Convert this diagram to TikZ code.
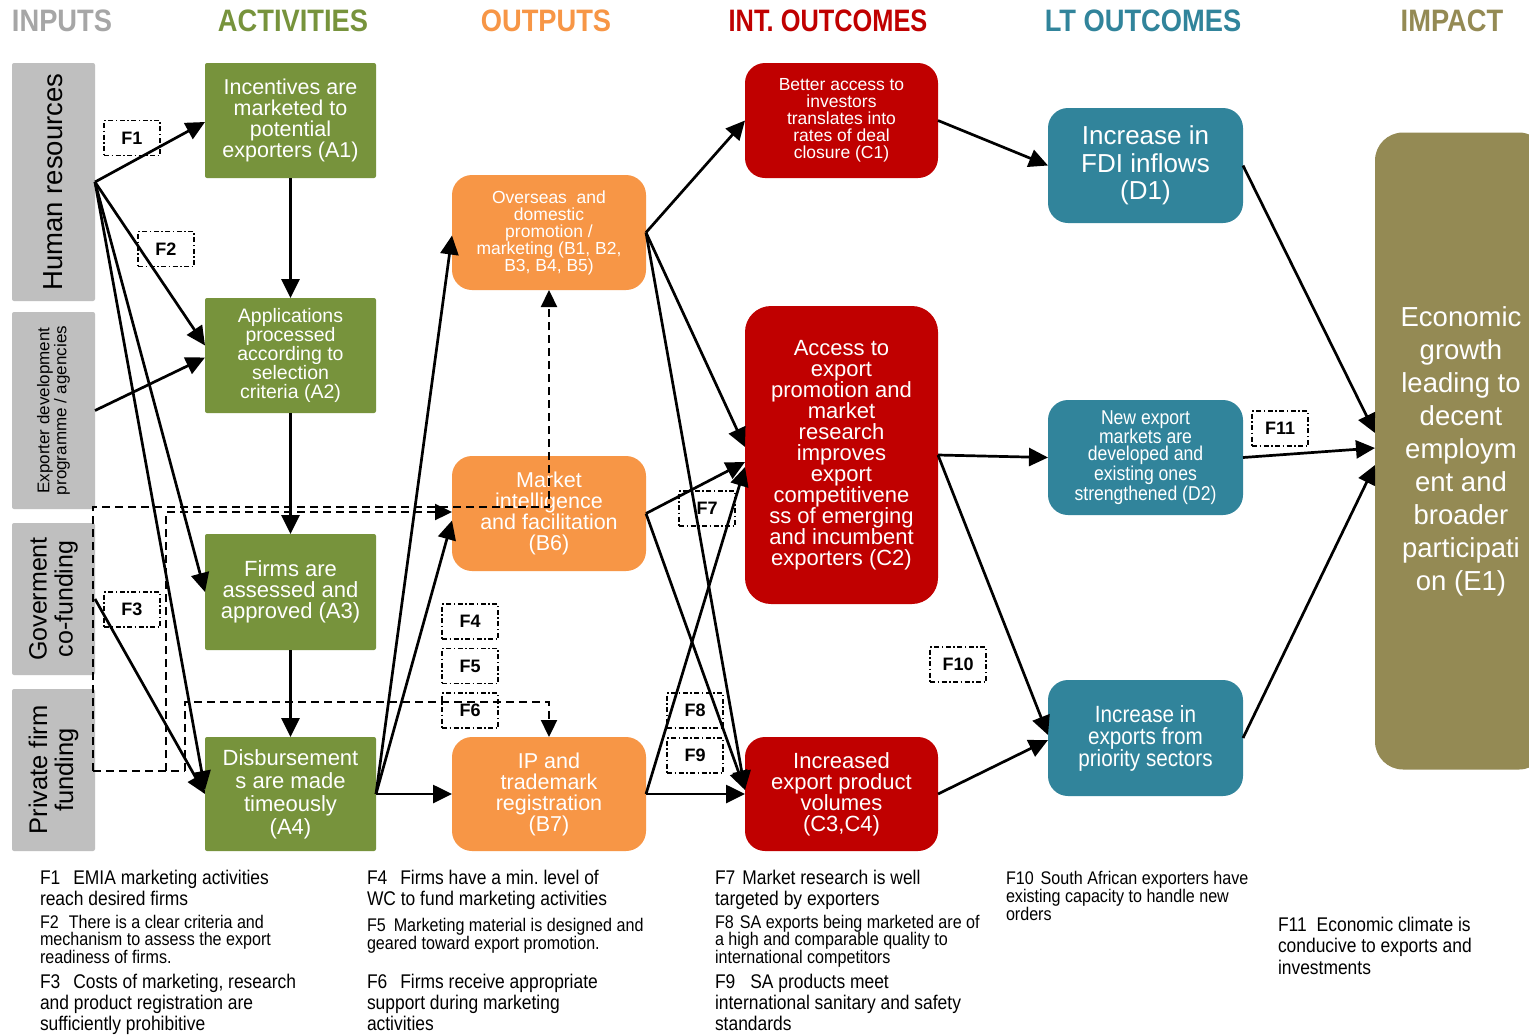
\documentclass[tikz,border=0pt]{standalone}
\usepackage{fontspec}
\setmainfont{Liberation Sans}
\newfontfamily\cnd[FakeStretch=0.88]{Liberation Sans}
\usetikzlibrary{arrows.meta,calc}
\frenchspacing
\definecolor{cgray}{HTML}{BFBFBF}
\definecolor{chead}{HTML}{A6A6A6}
\definecolor{cgreen}{HTML}{77933C}
\definecolor{corange}{HTML}{F79646}
\definecolor{cred}{HTML}{C00000}
\definecolor{cteal}{HTML}{31849B}
\definecolor{colive}{HTML}{948A54}
\newcommand{\fsz}[2]{\fontsize{#1pt}{#2pt}\selectfont}
\tikzset{
 every node/.style={inner sep=0pt, outer sep=0pt},
 wh/.style 2 args={minimum width=#1pt, minimum height=#2pt},
 inbox/.style={fill=cgray, rounded corners=2pt},
 intext/.style={rotate=90, align=center, text=black},
 act/.style={fill=cgreen, rounded corners=2pt, text=white, align=center},
 outb/.style={fill=corange, rounded corners=20pt, text=white, align=center},
 intb/.style={fill=cred, rounded corners=20pt, text=white, align=center},
 ltb/.style={fill=cteal, rounded corners=20pt, text=white, align=center},
 impb/.style={fill=colive, rounded corners=28pt, text=white, align=center},
 hdr/.style={font=\cnd\bfseries\fsz{31}{31}},
 fbx/.style={draw, line width=1.3pt, dash pattern=on 5pt off 2.5pt on 1.5pt off 2.5pt, wh={56}{35}, font=\bfseries\fsz{18}{18}},
 arr/.style={line width=2.7pt, -{Triangle[length=19pt,width=18pt]}},
 darr/.style={line width=2.3pt, dash pattern=on 8pt off 5pt, -{Triangle[length=17pt,width=16pt]}},
 dln/.style={line width=2.3pt, dash pattern=on 8pt off 5pt},
 btxt/.style={anchor=north west, align=left},
}
\begin{document}
\begin{tikzpicture}[x=1pt,y=-1pt]
\useasboundingbox (0,0) rectangle (1529,1034);
\clip (0,0) rectangle (1529,1034);
\fill[white] (0,0) rectangle (1529,1034);

% headers
\node[hdr, text=chead] (hIn) at (62,21) {INPUTS};
\node[hdr, text=cgreen] (hAc) at (293,21) {ACTIVITIES};
\node[hdr, text=corange] (hOu) at (546,21) {OUTPUTS};
\node[hdr, text=cred, xscale=0.93] (hInt) at (828,21) {INT. OUTCOMES};
\node[hdr, text=cteal] (hLt) at (1143,21) {LT OUTCOMES};
\node[hdr, text=colive] (hIm) at (1452,21) {IMPACT};

% inputs
\node[inbox, wh={83}{238}] (HR) at (53.5,182) {};
\node[intext, font=\fsz{27.5}{28}] (HRt) at (HR.center) {Human resources};
\node[inbox, wh={83}{197}] (EDP) at (53.5,410.5) {};
\node[intext, font=\fsz{17}{17}] (EDPt) at (EDP.center) {Exporter development\\programme / agencies};
\node[inbox, wh={83}{152}] (GOV) at (53.5,599) {};
\node[intext, font=\fsz{25}{26}] (GOVt) at (GOV.center) {Goverment\\co-funding};
\node[inbox, wh={83}{162}] (PRV) at (53.5,770) {};
\node[intext, font=\fsz{25.5}{26}] (PRVt) at (PRV.center) {Private firm\\funding};

% activities
\node[act, wh={171}{115}, font=\fsz{21.5}{21}] (A1) at (290.5,120.5) {Incentives are\\marketed to\\potential\\exporters (A1)};
\node[act, wh={171}{115}, font=\fsz{19.5}{19}] (A2) at (290.5,355.5) {Applications\\processed\\according to\\selection\\criteria (A2)};
\node[act, wh={171}{116}, font=\fsz{22}{21}] (A3) at (290.5,592) {Firms are\\assessed and\\approved (A3)};
\node[act, wh={171}{114}, font=\fsz{22}{23}] (A4) at (290.5,794) {Disbursement\\s are made\\timeously\\(A4)};

% outputs
\node[outb, wh={194}{115}, font=\fsz{17.5}{17}] (B1) at (549,232.5) {Overseas~ and\\domestic\\promotion /\\marketing (B1, B2,\\B3, B4, B5)};
\node[outb, wh={194}{115}, font=\fsz{21.5}{21}] (B6) at (549,513.5) {Market\\intelligence\\and facilitation\\(B6)};
\node[outb, wh={194}{114}, font=\fsz{21.5}{21}] (B7) at (549,794) {IP and\\trademark\\registration\\(B7)};

% intermediate outcomes
\node[intb, wh={193}{115}, font=\fsz{17.5}{17}] (C1) at (841.5,120.5) {Better access to\\investors\\translates into\\rates of deal\\closure (C1)};
\node[intb, rounded corners=26pt, wh={193}{298}, font=\fsz{22}{21}] (C2) at (841.5,455) {Access to\\export\\promotion and\\market\\research\\improves\\export\\competitivene\\ss of emerging\\and incumbent\\exporters (C2)};
\node[intb, wh={193}{114}, font=\fsz{22}{21}] (C3) at (841.5,794) {Increased\\export product\\volumes\\(C3,C4)};

% long-term outcomes
\node[ltb, wh={195}{115}, font=\fsz{26}{27.5}] (D1) at (1145.5,165.5) {Increase in\\FDI inflows\\(D1)};
\node[ltb, wh={195}{115}, font=\cnd\fsz{20}{17}] (D2) at (1145.5,457.5) {New export\\markets are\\developed and\\existing ones\\strengthened (D2)};
\node[ltb, wh={195}{116}, font=\cnd\fsz{23.5}{22}] (D3) at (1145.5,738) {Increase in\\exports from\\priority sectors};

% impact
\node[impb, wh={172}{637}, font=\fsz{27.5}{33}] (E1) at (1461,451) {Economic\\growth\\leading to\\decent\\employm\\ent and\\broader\\participati\\on (E1)};

% dashed funding connectors
\coordinate (dA) at (93,771);
\coordinate (dB) at (166,771);
\coordinate (dC) at (185,771);
\draw[dln] (dA) -- (dC);
\draw[darr] (dA) -- (93,507) -| (B1.south);
\draw[darr] (dB) |- ($(B6.west)+(0,-1.5)$);
\draw[darr] (dC) -- (185,702) -| (B7.north);

% solid connectors inputs -> activities
\draw[arr] (HR.east) -- ($(A1.west)+(0,1.5)$);
\draw[arr] (HR.east) -- ($(A2.west)+(0,-10)$);
\draw[arr] (EDP.east) -- ($(A2.west)+(0,2)$);
\draw[arr] (HR.east) -- (A3.west);
\draw[arr] (HR.east) -- ($(A4.west)+(0,-4)$);
\draw[arr] (GOV.east) -- (A4.west);
\draw[arr] (A1.south) -- (A2.north);
\draw[arr] (A2.south) -- (A3.north);
\draw[arr] (A3.south) -- (A4.north);

% activities -> outputs
\draw[arr] (A4.east) -- ($(B1.west)+(0,3)$);
\draw[arr] (A4.east) -- ($(B6.west)+(0,7)$);
\draw[arr] (A4.east) -- (B7.west);

% outputs -> intermediate outcomes
\draw[arr] (B1.east) -- (C1.west);
\draw[arr] (B1.east) -- ($(C2.west)+(0,-8)$);
\draw[arr] (B1.east) -- ($(C3.west)+(0,-4)$);
\draw[arr] (B6.east) -- ($(C2.west)+(0,7)$);
\draw[arr] (B6.east) -- ($(C3.west)+(0,-4)$);
\draw[arr] (B7.east) -- ($(C2.west)+(0,12)$);
\draw[arr] (B7.east) -- (C3.west);

% intermediate -> long term
\draw[arr] (C1.east) -- (D1.west);
\draw[arr] (C2.east) -- (D2.west);
\draw[arr] (C2.east) -- ($(D3.west)+(0,-3)$);
\draw[arr] (C3.east) -- ($(D3.west)+(0,2)$);

% long term -> impact
\draw[arr] (D1.east) -- ($(E1.west)+(0,-18)$);
\draw[arr] (D2.east) -- ($(E1.west)+(0,-3)$);
\draw[arr] (D3.east) -- ($(E1.west)+(0,14)$);

% assumption boxes
\node[fbx] (F1) at (132,138) {F1};
\node[fbx] (F2) at (166,249) {F2};
\node[fbx] (F3) at (132,609.5) {F3};
\node[fbx] (F4) at (470,621.5) {F4};
\node[fbx] (F5) at (470,666) {F5};
\node[fbx] (F6) at (470,710.5) {F6};
\node[fbx] (F7) at (707,508.5) {F7};
\node[fbx] (F8) at (695,710.5) {F8};
\node[fbx] (F9) at (695,755.5) {F9};
\node[fbx] (F10) at (958,664.5) {F10};
\node[fbx] (F11) at (1280,428.5) {F11};

% legend texts
\node[btxt, font=\cnd\fsz{19.8}{21}] (tF1) at (40,870) {F1\hspace{13pt}EMIA marketing activities\\reach desired firms};
\node[btxt, font=\cnd\fsz{18.3}{17.5}] (tF2) at (40,915) {F2\hspace{10pt}There is a clear criteria and\\mechanism to assess the export\\readiness of firms.};
\node[btxt, font=\cnd\fsz{19.8}{21}] (tF3) at (40,974) {F3\hspace{13pt}Costs of marketing, research\\and product registration are\\sufficiently prohibitive};
\node[btxt, font=\cnd\fsz{19.8}{21}] (tF4) at (367,870) {F4\hspace{13pt}Firms have a min. level of\\WC to fund marketing activities};
\node[btxt, font=\cnd\fsz{18.3}{18}] (tF5) at (367,918) {F5\hspace{8pt}Marketing material is designed and\\geared toward export promotion.};
\node[btxt, font=\cnd\fsz{19.8}{21}] (tF6) at (367,974) {F6\hspace{13pt}Firms receive appropriate\\support during marketing\\activities};
\node[btxt, font=\cnd\fsz{19.8}{21}] (tF7) at (715,870) {F7\hspace{7pt}Market research is well\\targeted by exporters};
\node[btxt, font=\cnd\fsz{18.3}{17.5}] (tF8) at (715,915) {F8\hspace{6pt}SA exports being marketed are of\\a high and comparable quality to\\international competitors};
\node[btxt, font=\cnd\fsz{19.8}{21}] (tF9) at (715,974) {F9\hspace{15pt}SA products meet\\international sanitary and safety\\standards};
\node[btxt, font=\cnd\fsz{18.3}{17}] (tF10) at (1006,871) {F10\hspace{7pt}South African exporters have\\existing capacity to handle new\\orders};
\node[btxt, font=\cnd\fsz{19.8}{21.5}] (tF11) at (1278,917) {F11\hspace{10pt}Economic climate is\\conducive to exports and\\investments};
\end{tikzpicture}
\end{document}
